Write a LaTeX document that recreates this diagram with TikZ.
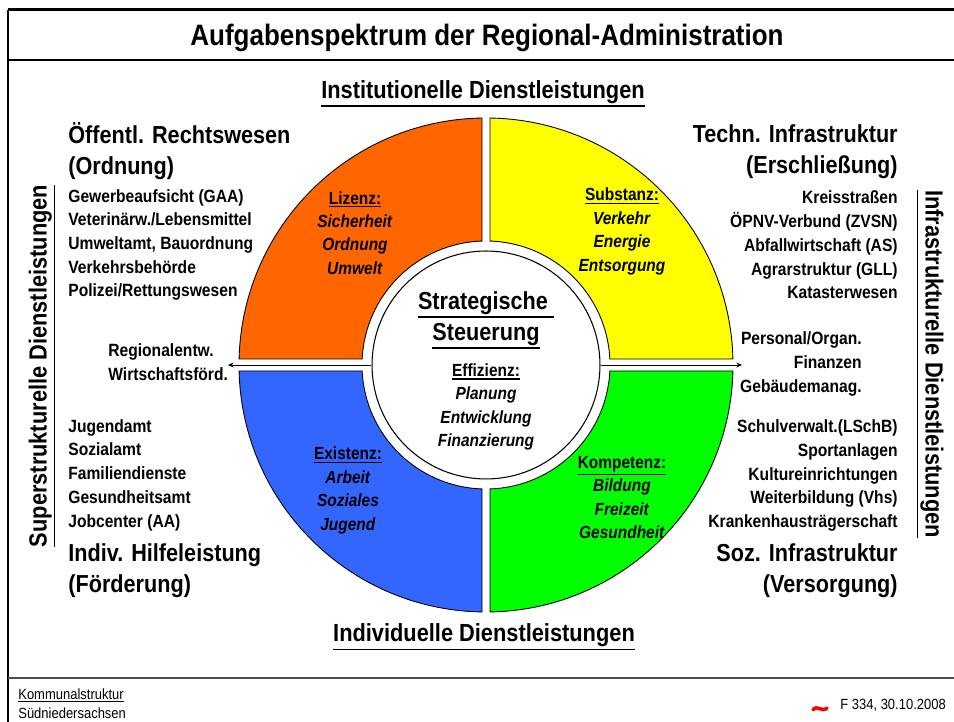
\documentclass[tikz,border=0pt]{standalone}
\usepackage{fontspec}
\setmainfont{Liberation Sans}[FakeStretch=0.88]
\usepackage{tikz}
\usetikzlibrary{arrows.meta, positioning}

\definecolor{sektorOrange}{HTML}{FF6600}
\definecolor{sektorGelb}{HTML}{FFFF00}
\definecolor{sektorBlau}{HTML}{3366FF}
\definecolor{sektorGruen}{HTML}{00FF00}

% underline with a chosen rule thickness
\newsavebox{\ustrichbox}
\newcommand{\ustrich}[2][0.7pt]{%
    \sbox\ustrichbox{#2}%
    \leavevmode\rlap{\rule[\dimexpr-\dp\ustrichbox-1pt-#1\relax]{\wd\ustrichbox}{#1}}%
    \usebox\ustrichbox}

\begin{document}
\begin{tikzpicture}[
    x=0.02cm, y=0.02cm,
    font=\bfseries,
    % text styles, sizes follow the slide
    titletext/.style={inner sep=0pt, font=\fontsize{16.8}{19}\selectfont\bfseries},
    labeltext/.style={inner sep=0pt, font=\fontsize{14.1}{16}\selectfont\bfseries},
    headtext/.style={inner sep=0pt, font=\fontsize{14}{17.6}\selectfont\bfseries},
    listtext/.style={inner sep=0pt, font=\fontsize{10.1}{13.5}\selectfont\bfseries},
    sectortext/.style={inner sep=0pt, align=center, font=\fontsize{10}{13.3}\selectfont\bfseries},
    footertext/.style={inner sep=0pt, font=\fontsize{8.4}{10.8}\selectfont\mdseries},
    sector/.style={draw=black, line width=0.5pt},
    arrow/.style={-{Stealth[length=3.2pt, width=2.8pt]}, line width=0.5pt}
]
\useasboundingbox (0,0) rectangle (954,722);

% =========================================================
% FRAME
% =========================================================
\draw[line width=1.1pt] (8,0) -- (8,712);
\draw[line width=1.7pt] (7.5,712) -- (954,712);
\draw[line width=0.85pt] (8,662) -- (954,662);
\draw[line width=1.1pt, black!70] (8,44) -- (954,44);

\node[titletext] (title) at (487,684) {Aufgabenspektrum der Regional-Administration};

% =========================================================
% RING OF FOUR SECTORS
% =========================================================
% \ga / \gb: half gap at start / end side of each quadrant
\begin{scope}[shift={(486,357)}]
    \foreach \b/\ga/\gb/\col in {0/6/4/sektorGelb, 90/4/6/sektorOrange, 180/6/4/sektorBlau, 270/4/6/sektorGruen}
        \draw[sector, fill=\col] ({\b+asin(\ga/247)}:247)
            arc[start angle={\b+asin(\ga/247)}, end angle={\b+90-asin(\gb/247)}, radius=247]
            -- ({\b+90-asin(\gb/124)}:124)
            arc[start angle={\b+90-asin(\gb/124)}, end angle={\b+asin(\ga/124)}, radius=124]
            -- cycle;
\end{scope}

% Centre disc
\node[circle, draw, fill=white, line width=0.6pt, minimum size=4.56cm, inner sep=0pt] (core) at (486,357) {};

\node[headtext, align=center] (strat) at ([yshift=0.9cm]core.center) {\ustrich[1pt]{Strategische\ }\\\ustrich[1pt]{Steuerung}};
\node[sectortext] (effizienz) at ([yshift=-0.84cm]core.center) {\ustrich{Effizienz:}\\\textit{Planung}\\\textit{Entwicklung}\\\textit{Finanzierung}};

% Sector contents
\node[sectortext] (lizenz) at (355,489) {\ustrich{Lizenz:}\\\textit{Sicherheit}\\\textit{Ordnung}\\\textit{Umwelt}};
\node[sectortext] (substanz) at (622,490.5) {\ustrich{Substanz:}\\\textit{Verkehr}\\\textit{Energie}\\\textit{Entsorgung}};
\node[sectortext] (existenz) at (348,231.5) {\ustrich{Existenz:}\\\textit{Arbeit}\\\textit{Soziales}\\\textit{Jugend}};
\node[sectortext] (kompetenz) at (622,224.5) {\ustrich{Kompetenz:}\\\textit{Bildung}\\\textit{Freizeit}\\\textit{Gesundheit}};

% Arrows out of the centre
\coordinate (westend) at (228,357);
\coordinate (eastend) at (742,357);
\draw[arrow] (core.west) -- (westend);
\draw[arrow] (core.east) -- (eastend);

% =========================================================
% AXIS LABELS
% =========================================================
\node[labeltext] (instLbl) at (483,628) {\ustrich[1.1pt]{Institutionelle Dienstleistungen}};
\node[labeltext] (indivLbl) at (484,85) {\ustrich[1.1pt]{Individuelle Dienstleistungen}};
\node[labeltext, rotate=90] (superLbl) at (42,356) {\ustrich[1.1pt]{Superstrukturelle Dienstleistungen}};
\node[labeltext, rotate=-90] (infraLbl) at (930,358) {\ustrich[1.1pt]{Infrastrukturelle Dienstleistungen}};

% =========================================================
% LEFT SIDE
% =========================================================
\node[headtext, align=left, anchor=west] (headOrd) at (68,570.5) {Öffentl. Rechtswesen\\(Ordnung)};
\node[listtext, align=left, anchor=west] (listOrd) at (68,477) {Gewerbeaufsicht (GAA)\\Veterinärw./Lebensmittel\\Umweltamt, Bauordnung\\Verkehrsbehörde\\Polizei/Rettungswesen};
\node[listtext, align=left, anchor=west] (regio) at (108,359.5) {Regionalentw.\\Wirtschaftsförd.};
\node[listtext, align=left, anchor=west] (listFoerd) at (68,247) {Jugendamt\\Sozialamt\\Familiendienste\\Gesundheitsamt\\Jobcenter (AA)};
\node[headtext, align=left, anchor=west] (headFoerd) at (68,151.5) {Indiv. Hilfeleistung\\(Förderung)};

% =========================================================
% RIGHT SIDE
% =========================================================
\node[headtext, align=right, anchor=east] (headErschl) at (898,570.5) {Techn. Infrastruktur\\(Erschließung)};
\node[listtext, align=right, anchor=east] (listErschl) at (898,477) {Kreisstraßen\\ÖPNV-Verbund (ZVSN)\\Abfallwirtschaft (AS)\\Agrarstruktur (GLL)\\Katasterwesen};
\node[listtext, align=right, anchor=east] (admin) at (862,358) {Personal/Organ.\\Finanzen\\Gebäudemanag.};
\node[listtext, align=right, anchor=east] (listVers) at (898,246.5) {Schulverwalt.(LSchB)\\Sportanlagen\\Kultureinrichtungen\\Weiterbildung (Vhs)\\Krankenhausträgerschaft};
\node[headtext, align=right, anchor=east] (headVers) at (898,151.5) {Soz. Infrastruktur\\(Versorgung)};

% =========================================================
% FOOTER
% =========================================================
\node[footertext, align=left, anchor=west] (kommunal) at (18,18.5) {\ustrich[0.5pt]{Kommunalstruktur}\\Südniedersachsen};
\node[footertext, anchor=west] (stand) at (840,17) {F 334, 30.10.2008};
\draw[red, line width=2pt, line cap=round] (813,12) .. controls (817,18) and (822,9) .. (827,14);

\end{tikzpicture}
\end{document}
